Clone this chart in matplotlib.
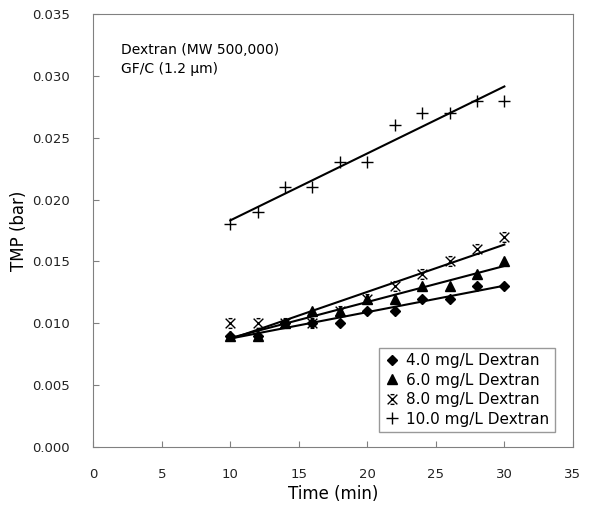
import numpy as np
import matplotlib
matplotlib.use('Agg')
import matplotlib.pyplot as plt
from matplotlib.path import Path

plt.rcParams['font.family'] = 'DejaVu Sans'

tiempo = [10, 12, 14, 16, 18, 20, 22, 24, 26, 28, 30]
d4 = [0.009, 0.009, 0.010, 0.010, 0.010, 0.011, 0.011, 0.012, 0.012, 0.013, 0.013]
d6 = [0.009, 0.009, 0.010, 0.011, 0.011, 0.012, 0.012, 0.013, 0.013, 0.014, 0.015]
d8 = [0.010, 0.010, 0.010, 0.010, 0.011, 0.012, 0.013, 0.014, 0.015, 0.016, 0.017]
d10 = [0.018, 0.019, 0.021, 0.021, 0.023, 0.023, 0.026, 0.027, 0.027, 0.028, 0.028]
etiquetas = ['4.0 mg/L Dextran', '6.0 mg/L Dextran', '8.0 mg/L Dextran', '10.0 mg/L Dextran']

# marcador tipo Excel: X con barritas arriba y abajo
xbar = Path([(-1, -1), (1, 1), (-1, 1), (1, -1), (-0.4, 1), (0.4, 1), (-0.4, -1), (0.4, -1)],
            [Path.MOVETO, Path.LINETO] * 4)

series = [d4, d6, d8, d10]
marcas = ['D', '^', xbar, '+']
tam = [5, 6.5, 7, 9]

fig = plt.figure(figsize=(5.9, 5.14), dpi=100)
ax = fig.add_axes([0.158, 0.130, 0.813, 0.843])

x = np.array(tiempo)
for y, m, s, lab in zip(series, marcas, tam, etiquetas):
    a, b = np.polyfit(x, y, 1)
    ax.plot([x[0], x[-1]], [a * x[0] + b, a * x[-1] + b], color='black', lw=1.5)
    ax.plot(x, y, linestyle='none', marker=m, markersize=s, color='black',
            markeredgewidth=1.0, label=lab)

ax.set_xlim(0, 35)
ax.set_ylim(0, 0.035)
ax.set_xticks(range(0, 36, 5))
ax.set_yticks(np.arange(0, 0.0351, 0.005))
ax.yaxis.set_major_formatter(plt.FormatStrFormatter('%.3f'))
ax.tick_params(direction='in', length=4, color='gray', labelsize=9.5, labelcolor='#222222')
ax.tick_params(axis='y', pad=17)
ax.tick_params(axis='x', pad=15)
for sp in ax.spines.values():
    sp.set_color('gray')

ax.set_xlabel('Time (min)', fontsize=12, labelpad=3)
ax.set_ylabel('TMP (bar)', fontsize=12, labelpad=3)

ax.text(2.0, 0.0313, 'Dextran (MW 500,000)\nGF/C (1.2 µm)', fontsize=10,
        va='center', ha='left', linespacing=1.45)

leg = ax.legend(loc='lower right', bbox_to_anchor=(0.962, 0.035), fontsize=11,
                frameon=True, fancybox=False, handlelength=0.9, handletextpad=0.5,
                borderpad=0.35, labelspacing=0.3, borderaxespad=0)
leg.get_frame().set_edgecolor('gray')
leg.get_frame().set_linewidth(1)

plt.savefig('out.png', dpi=100)
